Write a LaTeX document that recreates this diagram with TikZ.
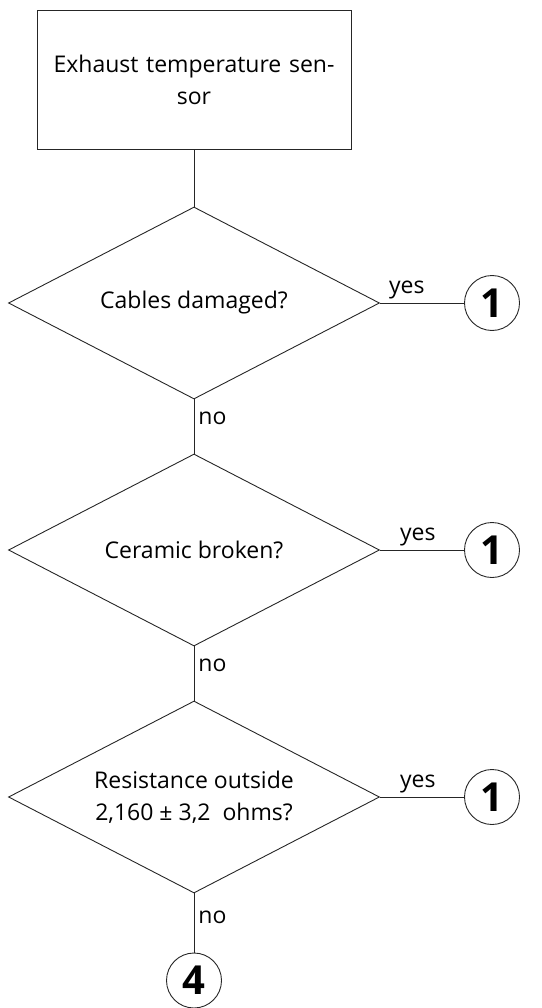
\documentclass[tikz,border=0pt]{standalone}
\usepackage{fontspec}
\setmainfont{Open Sans}
\usetikzlibrary{shapes.geometric}
\begin{document}
\begin{tikzpicture}[x=1pt,y=-1pt,
  line width=0.9pt, draw=black!85,
  txt/.style={font=\fontsize{23}{32}\selectfont, text=black},
  startbox/.style={draw, rectangle, minimum width=314pt, minimum height=139pt, inner sep=0pt, align=center, text width=300pt, txt},
  decision/.style={draw, diamond, shape aspect=1.93, minimum width=371pt, minimum height=192pt, inner sep=0pt, align=center, txt},
  connector/.style={draw, circle, minimum size=55pt, inner sep=0pt, font=\fontsize{40}{40}\bfseries\selectfont},
  lab/.style={txt, inner sep=4pt}
]
\useasboundingbox (0,0) rectangle (541,1008);

\node[startbox] (start) at (194,80) {Exhaust temperature sen-\\sor};
\node[decision] (d1) at (194,303) {Cables damaged?};
\node[decision] (d2) at (194,550) {Ceramic broken?};
\node[decision] (d3) at (194,797) {Resistance outside\\2,160 ± 3,2~~ohms?};

\node[connector] (c1) at (492,303) {1};
\node[connector] (c2) at (492,550) {1};
\node[connector] (c3) at (492,797) {1};
\node[connector] (c4) at (194,980.5) {4};

\draw (start.south) -- (d1.north);
\draw (d1.east) -- node[lab, above, pos=0.32] {yes} (c1.west);
\draw (d2.east) -- node[lab, above, pos=0.45] {yes} (c2.west);
\draw (d3.east) -- node[lab, above, pos=0.45] {yes} (c3.west);
\draw (d1.south) -- node[lab, right, pos=0.35] {no} (d2.north);
\draw (d2.south) -- node[lab, right, pos=0.35] {no} (d3.north);
\draw (d3.south) -- node[lab, right, pos=0.4] {no} (c4.north);
\end{tikzpicture}
\end{document}
